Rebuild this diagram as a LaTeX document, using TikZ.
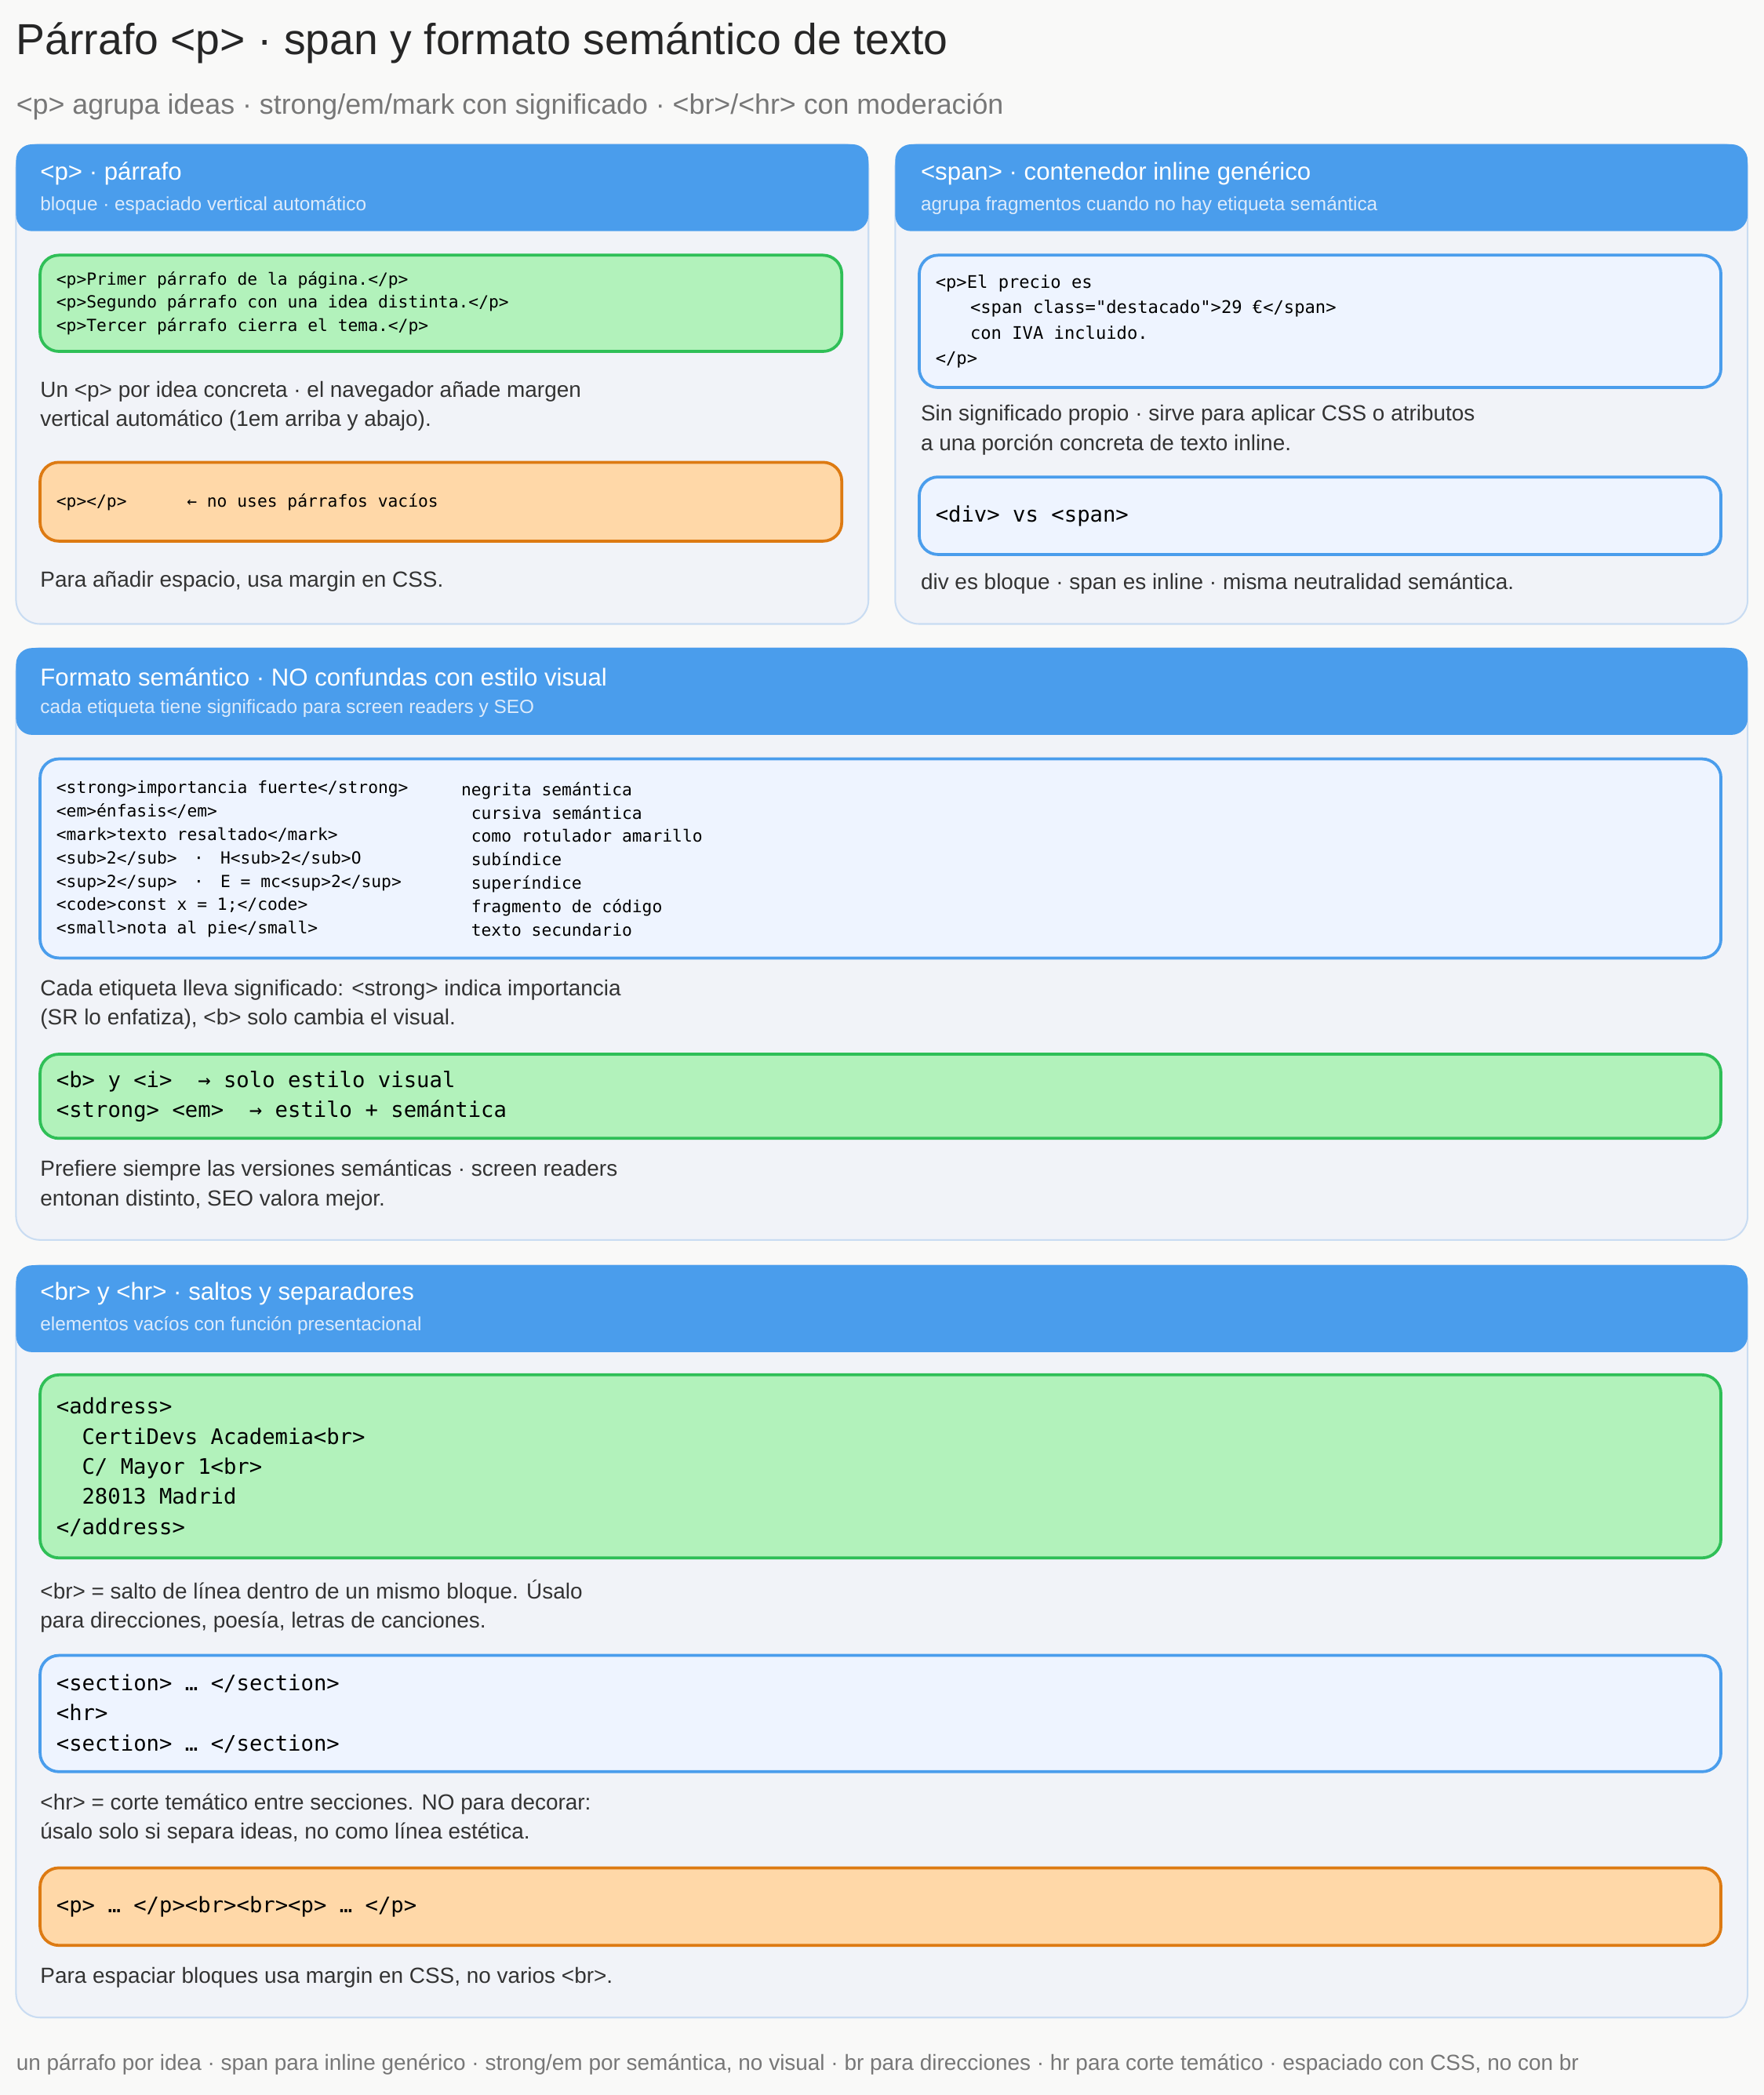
\documentclass[tikz,border=0pt]{standalone}
\usepackage{fontspec}
\setmainfont{Liberation Sans}
\setmonofont{DejaVu Sans Mono}
\usetikzlibrary{positioning}
\definecolor{mbg}{HTML}{F9F9F8}
\definecolor{mcard}{HTML}{F1F3F8}
\definecolor{mcardb}{HTML}{C9DCF2}
\definecolor{mhead}{HTML}{4A9DEC}
\definecolor{msub}{HTML}{DDEBFB}
\definecolor{mtext}{HTML}{333333}
\definecolor{mgray}{HTML}{777777}
\definecolor{mgreen}{HTML}{B2F2BB}
\definecolor{mgreenb}{HTML}{2FBF57}
\definecolor{morange}{HTML}{FFD8A8}
\definecolor{morangeb}{HTML}{DD7A12}
\definecolor{mblue}{HTML}{EEF4FF}
\definecolor{mblueb}{HTML}{4A9DEC}
\tikzstyle{card}=[fill=mcard, draw=mcardb, line width=1.2pt, rounded corners=18pt]
\tikzstyle{head}=[fill=mhead, rounded corners=12pt]
\tikzstyle{htitle}=[anchor=west, inner sep=0, text=white, font=\fontsize{18.3}{22}\selectfont]
\tikzstyle{hsub}=[anchor=west, inner sep=0, text=msub, font=\fontsize{14.3}{17}\selectfont]
\tikzstyle{body}=[anchor=west, inner sep=0, text=mtext, font=\fontsize{16.4}{22}\selectfont, align=left]
\tikzstyle{gbox}=[fill=mgreen, draw=mgreenb, line width=2.2pt, rounded corners=14pt]
\tikzstyle{obox}=[fill=morange, draw=morangeb, line width=2.2pt, rounded corners=14pt]
\tikzstyle{bbox}=[fill=mblue, draw=mblueb, line width=2.2pt, rounded corners=14pt]
\tikzstyle{code}=[anchor=west, inner sep=0, text=black, font=\ttfamily\fontsize{12.5}{17.5}\selectfont, align=left]
\tikzstyle{bcode}=[anchor=west, inner sep=0, text=black, font=\ttfamily\fontsize{16}{22.5}\selectfont, align=left]

\begin{document}
\begin{tikzpicture}[x=1pt, y=-1pt]
    \fill[mbg] (0,0) rectangle (1320,1568);
    \useasboundingbox (0,0) rectangle (1320,1568);

    \node[anchor=west, inner sep=0, text=black!85, font=\fontsize{32.5}{38}\selectfont] (title) at (12,32) {Párrafo <p> · span y formato semántico de texto};
    \node[anchor=west, inner sep=0, text=mgray, font=\fontsize{21}{25}\selectfont] (subtitle) at (12,80) {<p> agrupa ideas · strong/em/mark con significado · <br>/<hr> con moderación};

    % card 1
    \draw[card] (12,108) rectangle (650,467);
    \fill[head] (12,108) rectangle (650,173);
    \node[htitle] (c1t) at (30,130) {<p> · párrafo};
    \node[hsub] (c1s) at (30,154) {bloque · espaciado vertical automático};
    \draw[gbox] (30,191) rectangle (630,263);
    \node[code] (c1code) at (42,227) {<p>Primer párrafo de la página.</p>\\<p>Segundo párrafo con una idea distinta.</p>\\<p>Tercer párrafo cierra el tema.</p>};
    \node[body] (c1b) at (30,304) {Un <p> por idea concreta · el navegador añade margen\\vertical automático (1em arriba y abajo).};
    \draw[obox] (30,346) rectangle (630,405);
    \node[code] (c1bad) at (42,376) {<p></p>\hspace{3.6em}← no uses párrafos vacíos};
    \node[body] (c1c) at (30,435) {Para añadir espacio, usa margin en CSS.};

    % card 2
    \draw[card] (670,108) rectangle (1308,467);
    \fill[head] (670,108) rectangle (1308,173);
    \node[htitle] (c2t) at (689,130) {<span> · contenedor inline genérico};
    \node[hsub] (c2s) at (689,154) {agrupa fragmentos cuando no hay etiqueta semántica};
    \draw[bbox] (688,191) rectangle (1288,290);
    \node[code, font=\ttfamily\fontsize{13}{19}\selectfont] (c2code) at (700,240.5) {<p>El precio es\\\hspace{2em}<span class="destacado">29 €</span>\\\hspace{2em}con IVA incluido.\\</p>};
    \node[body] (c2b) at (689,322) {Sin significado propio · sirve para aplicar CSS o atributos\\a una porción concreta de texto inline.};
    \draw[bbox] (688,357) rectangle (1288,415);
    \node[bcode] (c2vs) at (700,386) {<div> vs <span>};
    \node[body] (c2c) at (689,437) {div es bloque · span es inline · misma neutralidad semántica.};

    % card 3
    \draw[card] (12,485) rectangle (1308,928);
    \fill[head] (12,485) rectangle (1308,550);
    \node[htitle] (c3t) at (30,507) {Formato semántico · NO confundas con estilo visual};
    \node[hsub] (c3s) at (30,530) {cada etiqueta tiene significado para screen readers y SEO};
    \draw[bbox] (30,568) rectangle (1288,717);
    \node[code] (c3l) at (42,643) {<strong>importancia fuerte</strong>\\<em>énfasis</em>\\<mark>texto resaltado</mark>\\<sub>2</sub>\hspace{1em}·\hspace{1em}H<sub>2</sub>O\\<sup>2</sup>\hspace{1em}·\hspace{1em}E = mc<sup>2</sup>\\<code>const x = 1;</code>\\<small>nota al pie</small>};
    \node[code] (c3r) at (345,643) {negrita semántica\\\hspace{0.6em}cursiva semántica\\\hspace{0.6em}como rotulador amarillo\\\hspace{0.6em}subíndice\\\hspace{0.6em}superíndice\\\hspace{0.6em}fragmento de código\\\hspace{0.6em}texto secundario};
    \node[body] (c3b) at (30,752) {Cada etiqueta lleva significado: <strong> indica importancia\\(SR lo enfatiza), <b> solo cambia el visual.};
    \draw[gbox] (30,789) rectangle (1288,852);
    \node[bcode] (c3good) at (42,820.5) {<b> y <i>\hspace{1.2em}→ solo estilo visual\\<strong> <em>\hspace{1.2em}→ estilo + semántica};
    \node[body] (c3c) at (30,887) {Prefiere siempre las versiones semánticas · screen readers\\entonan distinto, SEO valora mejor.};

    % card 4
    \draw[card] (12,947) rectangle (1308,1510);
    \fill[head] (12,947) rectangle (1308,1012);
    \node[htitle] (c4t) at (30,968) {<br> y <hr> · saltos y separadores};
    \node[hsub] (c4s) at (30,992) {elementos vacíos con función presentacional};
    \draw[gbox] (30,1029) rectangle (1288,1166);
    \node[bcode] (c4addr) at (42,1098) {<address>\\\hspace{1.2em}CertiDevs Academia<br>\\\hspace{1.2em}C/ Mayor 1<br>\\\hspace{1.2em}28013 Madrid\\</address>};
    \node[body] (c4b) at (30,1202) {<br> = salto de línea dentro de un mismo bloque. Úsalo\\para direcciones, poesía, letras de canciones.};
    \draw[bbox] (30,1239) rectangle (1288,1326);
    \node[bcode] (c4sec) at (42,1282.5) {<section> … </section>\\<hr>\\<section> … </section>};
    \node[body] (c4c) at (30,1361) {<hr> = corte temático entre secciones. NO para decorar:\\úsalo solo si separa ideas, no como línea estética.};
    \draw[obox] (30,1398) rectangle (1288,1456);
    \node[bcode] (c4bad) at (42,1427) {<p> … </p><br><br><p> … </p>};
    \node[body] (c4d) at (30,1480) {Para espaciar bloques usa margin en CSS, no varios <br>.};

    \node[anchor=west, inner sep=0, text=mgray, font=\fontsize{16.4}{20}\selectfont] (footer) at (12,1545) {un párrafo por idea · span para inline genérico · strong/em por semántica, no visual · br para direcciones · hr para corte temático · espaciado con CSS, no con br};
\end{tikzpicture}
\end{document}
